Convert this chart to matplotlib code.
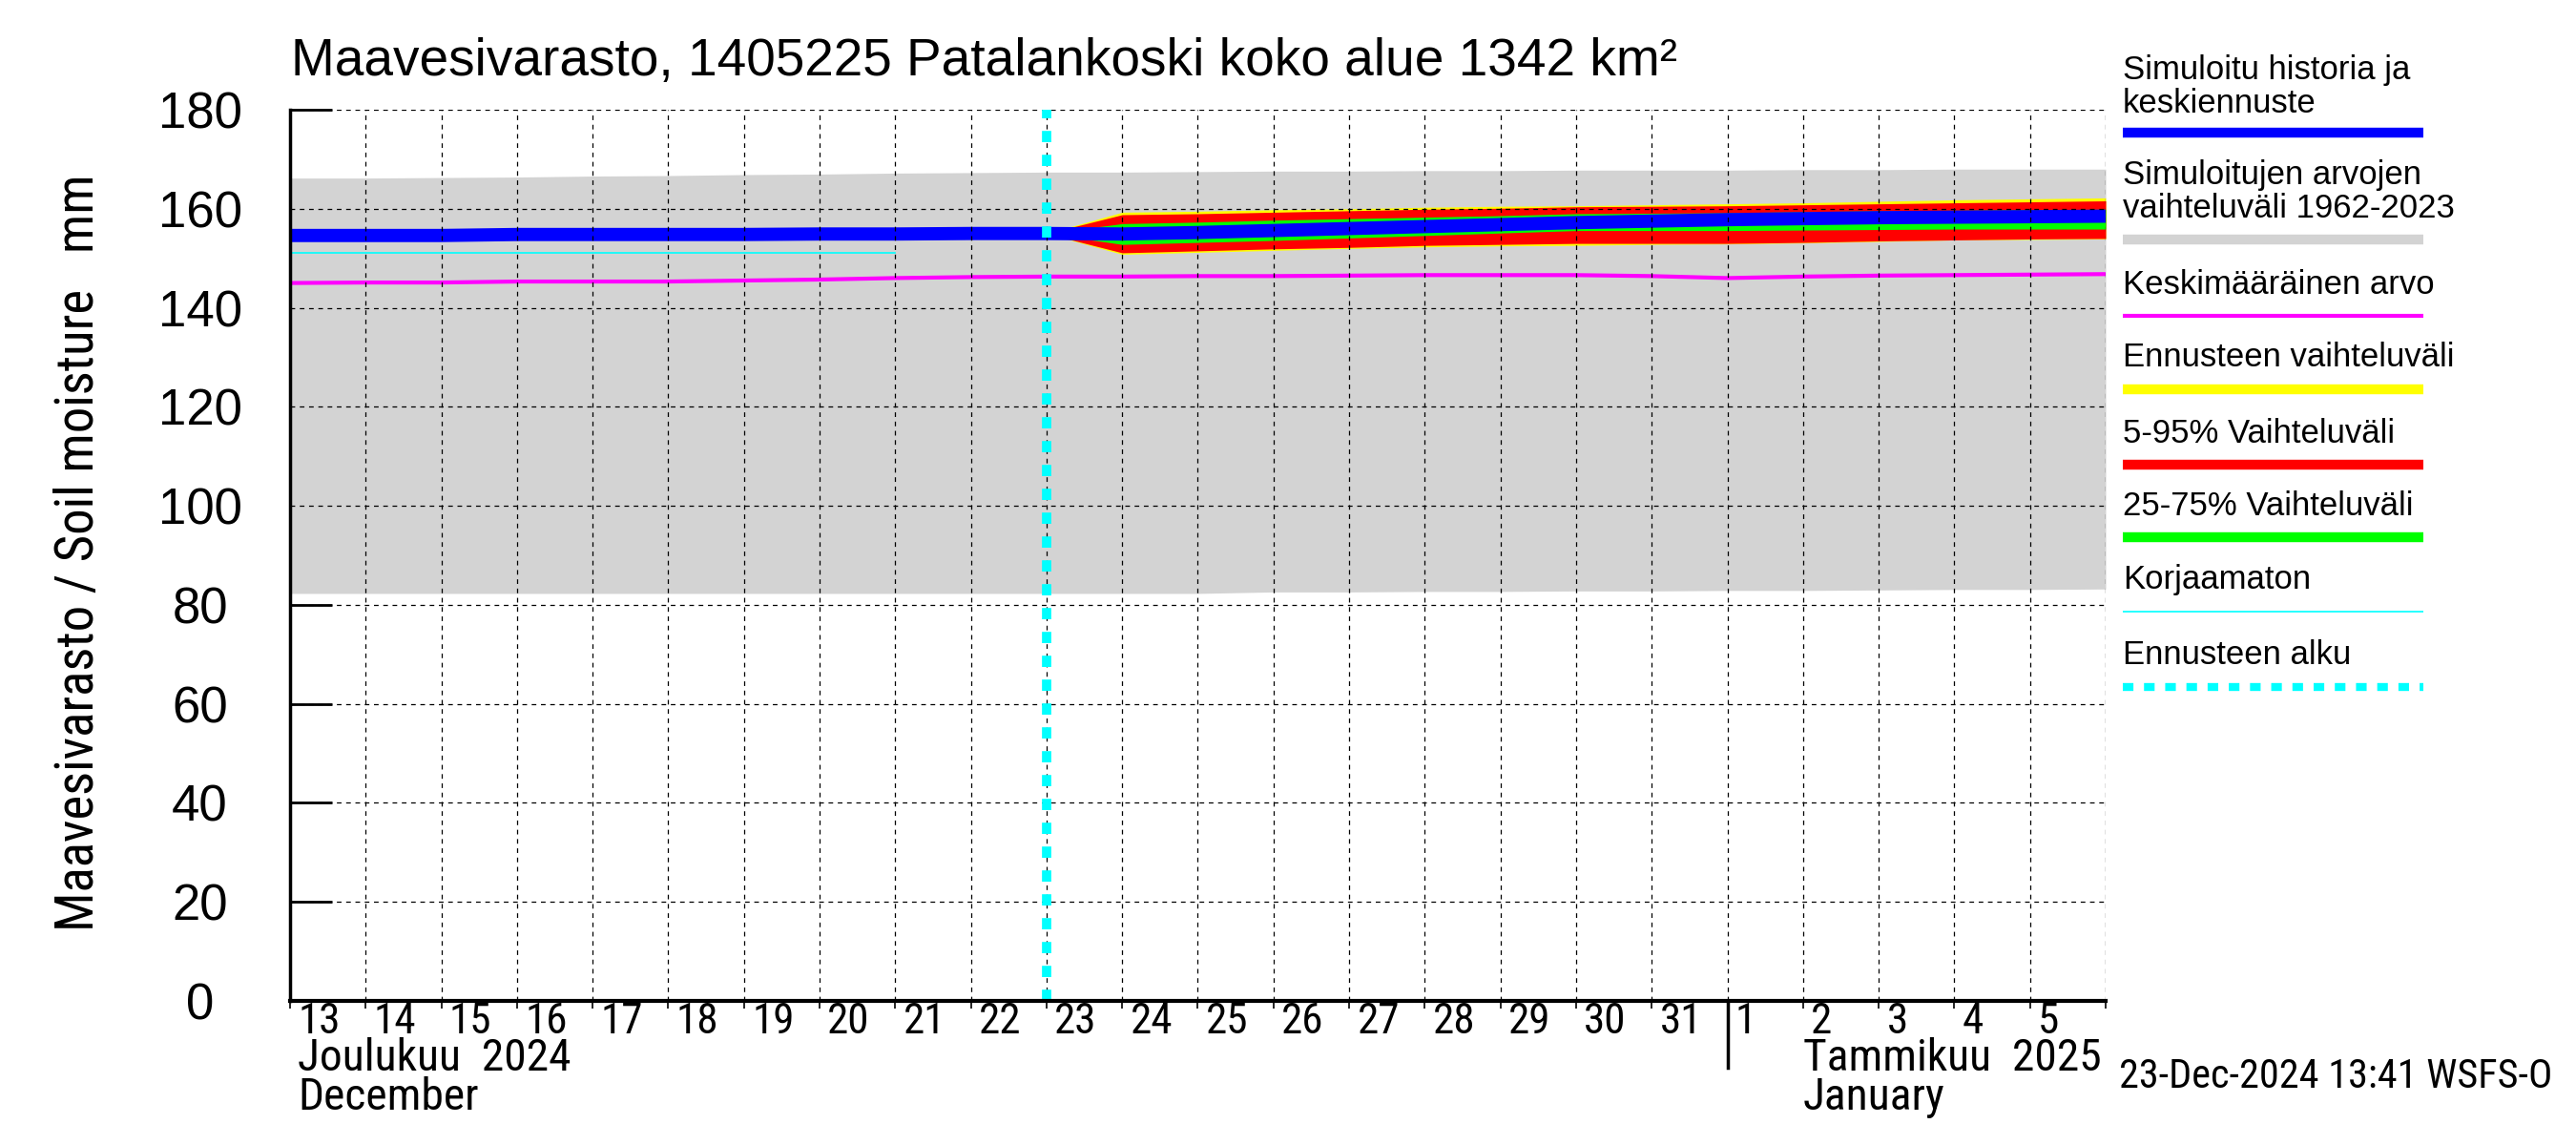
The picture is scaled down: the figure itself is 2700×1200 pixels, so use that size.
import os
import numpy as np
import matplotlib
matplotlib.use("Agg")
import matplotlib.pyplot as plt
import matplotlib.dates as mdates
import matplotlib.transforms as mtransforms
import matplotlib.font_manager as fm
from matplotlib.lines import Line2D

plt.rcParams['font.family'] = ['Liberation Sans', 'DejaVu Sans']
plt.rcParams['lines.scale_dashes'] = False


def pick_narrow():
    # look for a condensed face; fall back to the regular one
    for fam, stretch in [('Liberation Sans Narrow', 'normal'), ('Roboto Condensed', 'normal'),
                         ('Noto Sans', 'condensed'), ('Open Sans', 'condensed'),
                         ('DejaVu Sans', 'condensed')]:
        try:
            p = fm.findfont(fm.FontProperties(family=fam, stretch=stretch),
                            fallback_to_default=False)
        except Exception:
            continue
        name = os.path.basename(p).lower()
        if 'narrow' in name or 'condensed' in name:
            return fm.FontProperties(fname=p)
    return fm.FontProperties(family='Liberation Sans')


NARROW = pick_narrow()

# Data
all_days = np.arange(np.datetime64('2024-12-13'), np.datetime64('2025-01-07'))
hist_days = np.arange(np.datetime64('2024-12-13'), np.datetime64('2024-12-24'))
raw_days = np.arange(np.datetime64('2024-12-13'), np.datetime64('2024-12-22'))
fc_days = np.arange(np.datetime64('2024-12-23'), np.datetime64('2025-01-07'))
forecast_start = np.datetime64('2024-12-23')

range_upper = [166.2, 166.2, 166.3, 166.4, 166.6, 166.7, 166.9, 167.0, 167.2, 167.3,
               167.4, 167.4, 167.5, 167.6, 167.6, 167.7, 167.7, 167.8, 167.8, 167.8,
               167.9, 167.9, 168.0, 168.0, 168.0]
range_lower = [82.3, 82.3, 82.3, 82.3, 82.3, 82.3, 82.3, 82.3, 82.3, 82.3,
               82.3, 82.3, 82.3, 82.6, 82.6, 82.7, 82.7, 82.8, 82.8, 82.9,
               82.9, 83.0, 83.1, 83.1, 83.2]
mean_value = [145.0, 145.1, 145.1, 145.3, 145.3, 145.3, 145.5, 145.7, 146.0, 146.2,
              146.3, 146.3, 146.4, 146.4, 146.5, 146.6, 146.6, 146.6, 146.4, 146.0,
              146.3, 146.5, 146.6, 146.7, 146.8]
hist_sim = [154.6, 154.6, 154.6, 154.8, 154.8, 154.8, 154.8, 154.9, 154.9, 155.0, 155.0]
uncorrected = [151.0, 151.0, 151.0, 151.0, 151.0, 151.0, 151.0, 151.0, 151.0]

fc_median = [155.0, 154.9, 155.2, 155.6, 156.0, 156.4, 156.8, 157.2, 157.5, 157.8,
             158.0, 158.2, 158.3, 158.4, 158.5]
fc_p75 = [155.0, 157.0, 157.3, 157.7, 158.0, 158.3, 158.6, 159.0, 159.1, 159.2,
          159.4, 159.6, 159.7, 159.8, 159.9]
fc_p25 = [155.0, 152.8, 153.2, 153.6, 154.1, 154.6, 155.1, 155.6, 155.6, 155.6,
          155.7, 155.8, 155.9, 155.9, 155.9]
fc_p95 = [155.0, 158.8, 159.0, 159.3, 159.6, 159.9, 160.1, 160.4, 160.5, 160.6,
          160.8, 161.0, 161.2, 161.4, 161.6]
fc_p5 = [155.0, 151.1, 151.5, 151.9, 152.2, 152.6, 152.8, 153.0, 153.0, 153.0,
         153.2, 153.5, 153.7, 153.9, 154.0]
fc_max = [155.0, 159.3, 159.5, 159.8, 160.0, 160.3, 160.5, 160.6, 160.8, 161.0,
          161.2, 161.5, 161.8, 162.0, 162.2]
fc_min = [155.0, 150.8, 151.2, 151.6, 152.0, 152.3, 152.5, 152.6, 152.8, 152.9,
          153.1, 153.4, 153.7, 153.8, 153.9]

y_ticks = [0, 20, 40, 60, 80, 100, 120, 140, 160, 180]

title = 'Maavesivarasto, 1405225 Patalankoski koko alue 1342 km²'
ylabel = 'Maavesivarasto / Soil moisture   mm'
stamp = '23-Dec-2024 13:41 WSFS-O'
legend_items = [
    ('Simuloitu historia ja\nkeskiennuste', '#0000ff', 7.5, '-'),
    ('Simuloitujen arvojen\nvaihteluväli 1962-2023', '#d3d3d3', 7.5, '-'),
    ('Keskimääräinen arvo', '#ff00ff', 3.0, '-'),
    ('Ennusteen vaihteluväli', '#ffff00', 7.5, '-'),
    ('5-95% Vaihteluväli', '#ff0000', 7.5, '-'),
    ('25-75% Vaihteluväli', '#00ff00', 7.5, '-'),
    ('Korjaamaton', '#00ffff', 1.2, '-'),
    ('Ennusteen alku', '#00ffff', 6.0, (0, (8, 8))),
]

W, H = 2700, 1200
fig = plt.figure(figsize=(27, 12), dpi=100)
ax = fig.add_axes([304 / W, 1 - 1049 / H, (2207 - 304) / W, (1049 - 115) / H])

x_all = mdates.date2num(all_days)
x_hist = mdates.date2num(hist_days)
x_raw = mdates.date2num(raw_days)
x_fc = mdates.date2num(fc_days)
x_start = mdates.date2num(forecast_start)

ax.fill_between(x_all, range_lower, range_upper, color='#d3d3d3', lw=0, zorder=1)
ax.fill_between(x_fc, fc_min, fc_max, color='#ffff00', lw=0, zorder=2)
ax.fill_between(x_fc, fc_p5, fc_p95, color='#ff0000', lw=0, zorder=3)
ax.fill_between(x_fc, fc_p25, fc_p75, color='#00ff00', lw=0, zorder=4)
ax.plot(x_all, mean_value, color='#ff00ff', lw=3.0, zorder=5)
ax.plot(x_raw, uncorrected, color='#00ffff', lw=1.2, zorder=5)
ax.plot(x_hist, hist_sim, color='#0000ff', lw=10, zorder=6, solid_capstyle='butt')
ax.plot(x_fc, fc_median, color='#0000ff', lw=10, zorder=6, solid_capstyle='butt')

ax.set_xlim(x_all[0], x_all[-1])
ax.set_ylim(0, 180)

# grid drawn by hand so it sits above the fills
for yv in y_ticks:
    ax.axhline(yv, color='black', lw=0.9, ls=(0, (3.5, 3.5)), zorder=8)
for xv in x_all:
    ax.axvline(xv, color='black', lw=0.9, ls=(0, (3.5, 3.5)), zorder=8)
ax.axvline(x_start, color='#00ffff', lw=7, ls=(0, (8.5, 9.5)), zorder=9)

for s in ['top', 'right']:
    ax.spines[s].set_visible(False)
ax.spines['left'].set_linewidth(2.5)
ax.spines['bottom'].set_linewidth(3)
ax.spines['left'].set_zorder(10)
ax.spines['bottom'].set_zorder(10)
ax.set_axisbelow(True)

ax.set_yticks(y_ticks)
ax.set_yticklabels([str(v) for v in y_ticks], ha='center', fontsize=38)
ax.tick_params(axis='y', direction='in', length=32, width=2, pad=68)

# day ticks, long every fifth day
ax.set_xticks(x_all)
ax.set_xticklabels([])
ax.tick_params(axis='x', direction='out', length=6, width=1.2)
long_days = [x for x, d in zip(x_all, all_days) if d.astype(object).day % 5 == 0]
ax.set_xticks(long_days, minor=True)
ax.tick_params(axis='x', which='minor', direction='out', length=26, width=1.2)

trans = mtransforms.blended_transform_factory(ax.transData, ax.transAxes)
offs = trans + mtransforms.ScaledTranslation(6 / 72, 0, fig.dpi_scale_trans)

renderer = fig.canvas.get_renderer()


def fit(txt, target_px, rotated=False):
    ext = txt.get_window_extent(renderer)
    size = ext.height if rotated else ext.width
    txt.set_fontsize(txt.get_fontsize() * target_px / size)
    return txt.get_fontsize()


jan1 = mdates.date2num(np.datetime64('2025-01-01'))
ax.plot([jan1, jan1], [0, -0.075], transform=trans, color='black', lw=2.5,
        clip_on=False, zorder=10)
m1 = ax.text(x_all[0], -0.064, 'Joulukuu  2024', transform=offs, ha='left', va='center',
             fontsize=30, fontproperties=NARROW)
msize = fit(m1, 286)
ax.text(x_all[0], -0.108, 'December', transform=offs, ha='left', va='center',
        fontproperties=NARROW, fontsize=msize)
jan2 = mdates.date2num(np.datetime64('2025-01-02'))
ax.text(jan2, -0.064, 'Tammikuu  2025', transform=trans, ha='left', va='center',
        fontproperties=NARROW, fontsize=msize)
ax.text(jan2, -0.108, 'January', transform=trans, ha='left', va='center',
        fontproperties=NARROW, fontsize=msize)

for x, d in zip(x_all[:-1], all_days[:-1]):
    ax.text(x, -0.0236, str(d.astype(object).day), transform=offs, ha='left',
            va='center', fontproperties=NARROW, fontsize=msize * 0.95)

t = fig.text(305 / W, 1 - 65 / H, title, ha='left', va='center', fontsize=38)
fit(t, 1451)
yl = fig.text(83 / W, 1 - 579 / H, ylabel, rotation=90, ha='center', va='center',
              fontproperties=NARROW, fontsize=34)
fit(yl, 794, rotated=True)
st = fig.text(2221 / W, 1 - 1128 / H, stamp, ha='left', va='center',
              fontproperties=NARROW, fontsize=28)
fit(st, 455)

# legend on the right
text_y = [74, 184, 298, 375, 455, 530, 608, 687]
bar_y = [139, 251, 331, 408, 487, 563, 641, 720]
for (label, col, lw, ls), ty, by in zip(legend_items, text_y, bar_y):
    lines = label.split('\n')
    for i, part in enumerate(lines):
        fig.text(2225 / W, 1 - (ty + 34 * i) / H, part, ha='left', va='center', fontsize=25)
    fig.add_artist(Line2D([2225 / W, 2540 / W], [1 - by / H, 1 - by / H], color=col,
                          lw=lw, ls=ls, solid_capstyle='butt', transform=fig.transFigure))

fig.savefig('out.png', dpi=100)
